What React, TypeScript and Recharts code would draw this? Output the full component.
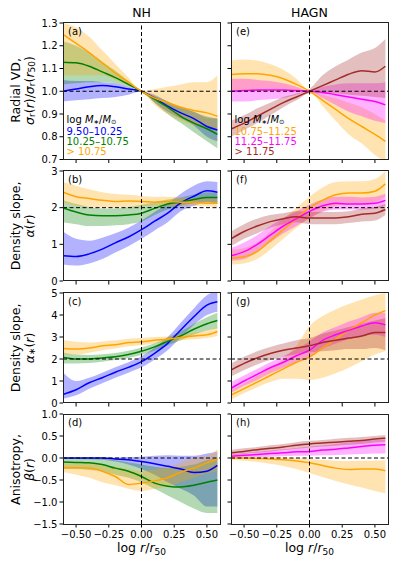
import React from 'react'
import { ComposedChart, Area, Line, XAxis, YAxis, ReferenceLine } from 'recharts'

// x grid: log r/r50
const X = [-0.6, -0.5, -0.4, -0.3, -0.2, -0.1, 0, 0.1, 0.2, 0.3, 0.4, 0.5, 0.58]
const X_TICKS = [-0.5, -0.25, 0, 0.25, 0.5]

// (a) NH radial VD
const aBlue = [1.0, 1.01, 1.02, 1.025, 1.02, 1.01, 1.0, 0.97, 0.935, 0.905, 0.88, 0.845, 0.83]
const aBlueLo = [0.955, 0.96, 0.965, 0.97, 0.975, 0.985, 1.0, 0.95, 0.91, 0.88, 0.85, 0.8, 0.78]
const aBlueHi = [1.05, 1.045, 1.045, 1.04, 1.035, 1.02, 1.0, 0.985, 0.955, 0.93, 0.91, 0.885, 0.88]
const aGreen = [1.128, 1.125, 1.11, 1.085, 1.06, 1.03, 1.0, 0.965, 0.93, 0.89, 0.86, 0.835, 0.81]
const aGreenLo = [1.03, 1.035, 1.04, 1.04, 1.035, 1.02, 1.0, 0.95, 0.9, 0.86, 0.82, 0.78, 0.75]
const aGreenHi = [1.22, 1.2, 1.17, 1.13, 1.09, 1.045, 1.0, 0.98, 0.955, 0.93, 0.91, 0.89, 0.88]
const aOrange = [1.25, 1.21, 1.17, 1.125, 1.08, 1.04, 1.0, 0.97, 0.95, 0.93, 0.915, 0.905, 0.89]
const aOrangeLo = [1.07, 1.07, 1.07, 1.07, 1.05, 1.025, 1.0, 0.94, 0.9, 0.87, 0.85, 0.84, 0.83]
const aOrangeHi = [1.3, 1.28, 1.24, 1.18, 1.12, 1.06, 1.0, 1.01, 1.02, 1.03, 1.04, 1.04, 1.07]

// (e) HAGN radial VD
const eOrange = [1.074, 1.077, 1.077, 1.07, 1.055, 1.03, 1.0, 0.96, 0.92, 0.88, 0.845, 0.81, 0.78]
const eOrangeLo = [1.0, 1.0, 1.0, 1.0, 1.0, 0.995, 1.0, 0.935, 0.87, 0.81, 0.77, 0.72, 0.69]
const eOrangeHi = [1.135, 1.14, 1.135, 1.12, 1.095, 1.055, 1.0, 0.985, 0.97, 0.95, 0.93, 0.9, 0.87]
const eMagenta = [1.0, 1.003, 1.005, 1.005, 1.005, 1.003, 1.0, 0.995, 0.985, 0.975, 0.965, 0.955, 0.94]
const eMagentaLo = [0.955, 0.955, 0.96, 0.965, 0.97, 0.985, 1.0, 0.97, 0.94, 0.91, 0.89, 0.87, 0.86]
const eMagentaHi = [1.055, 1.055, 1.05, 1.045, 1.035, 1.02, 1.0, 1.02, 1.03, 1.035, 1.035, 1.035, 1.04]
const eBrown = [0.834, 0.86, 0.89, 0.92, 0.95, 0.975, 1.0, 1.025, 1.05, 1.075, 1.09, 1.085, 1.11]
const eBrownLo = [0.8, 0.83, 0.86, 0.895, 0.93, 0.96, 0.99, 0.99, 0.99, 0.985, 0.98, 0.975, 0.97]
const eBrownHi = [0.87, 0.895, 0.925, 0.95, 0.975, 0.99, 1.01, 1.07, 1.11, 1.14, 1.17, 1.19, 1.23]

// (b) NH density slope
const bBlue = [0.69, 0.67, 0.74, 0.87, 1.04, 1.2, 1.4, 1.63, 1.85, 2.13, 2.31, 2.46, 2.42]
const bBlueLo = [0.45, 0.42, 0.48, 0.6, 0.78, 0.95, 1.15, 1.38, 1.6, 1.9, 2.05, 2.15, 2.1]
const bBlueHi = [1.35, 1.15, 1.1, 1.18, 1.3, 1.45, 1.65, 1.88, 2.12, 2.38, 2.6, 2.72, 2.7]
const bGreen = [1.99, 1.88, 1.8, 1.78, 1.78, 1.8, 1.85, 1.98, 2.1, 2.15, 2.22, 2.28, 2.28]
const bGreenLo = [1.6, 1.55, 1.5, 1.5, 1.52, 1.55, 1.62, 1.8, 1.95, 2.05, 2.12, 2.15, 2.15]
const bGreenHi = [2.2, 2.1, 2.02, 1.98, 1.98, 2.02, 2.08, 2.15, 2.22, 2.28, 2.36, 2.42, 2.42]
const bOrange = [2.42, 2.3, 2.25, 2.2, 2.17, 2.18, 2.17, 2.15, 2.17, 2.15, 2.15, 2.12, 2.12]
const bOrangeLo = [2.15, 2.05, 2.02, 2.0, 2.0, 2.02, 2.03, 2.05, 2.05, 2.05, 2.05, 2.03, 2.02]
const bOrangeHi = [2.7, 2.6, 2.5, 2.42, 2.37, 2.35, 2.32, 2.3, 2.3, 2.28, 2.27, 2.25, 2.25]

// (f) HAGN density slope
const fOrange = [0.62, 0.66, 0.8, 1.1, 1.4, 1.7, 2.0, 2.2, 2.35, 2.4, 2.4, 2.45, 2.65]
const fOrangeLo = [0.45, 0.48, 0.6, 0.85, 1.15, 1.45, 1.7, 1.9, 2.05, 2.1, 2.1, 2.15, 2.3]
const fOrangeHi = [0.85, 0.9, 1.05, 1.35, 1.7, 2.0, 2.3, 2.55, 2.7, 2.72, 2.72, 2.78, 3.0]
const fMagenta = [0.69, 0.8, 1.0, 1.25, 1.5, 1.7, 1.9, 2.05, 2.12, 2.1, 2.1, 2.12, 2.2]
const fMagentaLo = [0.55, 0.6, 0.8, 1.05, 1.3, 1.5, 1.72, 1.88, 1.95, 1.95, 1.95, 1.97, 2.05]
const fMagentaHi = [0.9, 1.05, 1.25, 1.5, 1.72, 1.9, 2.08, 2.22, 2.3, 2.3, 2.28, 2.3, 2.38]
const fBrown = [1.15, 1.35, 1.5, 1.62, 1.7, 1.75, 1.72, 1.72, 1.72, 1.75, 1.82, 1.85, 1.95]
const fBrownLo = [0.95, 1.15, 1.3, 1.45, 1.55, 1.6, 1.55, 1.55, 1.55, 1.58, 1.62, 1.65, 1.8]
const fBrownHi = [1.35, 1.55, 1.7, 1.8, 1.85, 1.9, 1.88, 1.88, 1.88, 1.9, 1.98, 2.02, 2.1]

// (c) NH stellar density slope
const cBlue = [0.39, 0.6, 0.92, 1.15, 1.4, 1.62, 1.88, 2.26, 2.71, 3.32, 3.92, 4.45, 4.6]
const cBlueLo = [0.2, 0.35, 0.65, 0.9, 1.15, 1.38, 1.62, 1.98, 2.4, 2.98, 3.55, 4.0, 4.15]
const cBlueHi = [1.4, 1.0, 1.15, 1.38, 1.62, 1.85, 2.12, 2.52, 3.0, 3.65, 4.3, 4.9, 5.1]
const cGreen = [2.08, 2.0, 2.0, 2.05, 2.1, 2.2, 2.35, 2.55, 2.8, 3.05, 3.35, 3.6, 3.75]
const cGreenLo = [1.8, 1.8, 1.82, 1.88, 1.95, 2.05, 2.18, 2.38, 2.62, 2.85, 3.1, 3.3, 3.4]
const cGreenHi = [2.3, 2.2, 2.18, 2.22, 2.27, 2.37, 2.52, 2.72, 2.98, 3.25, 3.6, 3.9, 4.1]
const cOrange = [2.48, 2.45, 2.5, 2.6, 2.65, 2.75, 2.78, 2.85, 2.9, 2.98, 3.05, 3.1, 3.25]
const cOrangeLo = [2.2, 2.2, 2.28, 2.4, 2.48, 2.58, 2.62, 2.7, 2.78, 2.85, 2.9, 2.95, 3.05]
const cOrangeHi = [2.85, 2.78, 2.75, 2.8, 2.85, 2.92, 2.95, 3.0, 3.02, 3.1, 3.2, 3.3, 3.45]

// (g) HAGN stellar density slope
const gOrange = [0.36, 0.65, 0.95, 1.25, 1.55, 1.85, 2.1, 2.5, 2.9, 3.3, 3.65, 4.0, 4.2]
const gOrangeLo = [0.15, 0.45, 0.72, 0.95, 1.1, 1.1, 1.05, 1.15, 1.35, 1.6, 1.9, 2.2, 2.35]
const gOrangeHi = [0.6, 0.9, 1.25, 1.6, 2.0, 2.6, 3.5, 3.95, 4.25, 4.5, 4.7, 4.9, 5.0]
const gMagenta = [0.67, 1.0, 1.3, 1.6, 1.85, 2.15, 2.4, 2.85, 3.1, 3.3, 3.5, 3.65, 3.55]
const gMagentaLo = [0.45, 0.78, 1.05, 1.35, 1.6, 1.85, 2.05, 2.45, 2.7, 2.9, 3.05, 3.1, 3.0]
const gMagentaHi = [0.95, 1.25, 1.55, 1.85, 2.12, 2.45, 2.8, 3.2, 3.45, 3.7, 3.9, 4.1, 4.1]
const gBrown = [1.5, 1.8, 2.05, 2.25, 2.4, 2.5, 2.6, 2.75, 2.85, 2.95, 3.05, 3.2, 3.2]
const gBrownLo = [1.2, 1.5, 1.75, 1.95, 2.1, 2.2, 2.3, 2.35, 2.4, 2.45, 2.45, 2.5, 2.4]
const gBrownHi = [1.8, 2.1, 2.35, 2.55, 2.7, 2.85, 2.95, 3.15, 3.3, 3.45, 3.6, 3.75, 3.85]

// (d) NH anisotropy
const dBlue = [0, 0, 0, 0, -0.02, -0.04, -0.08, -0.13, -0.19, -0.25, -0.33, -0.3, -0.17]
const dBlueLo = [-0.02, -0.02, -0.03, -0.04, -0.08, -0.15, -0.25, -0.38, -0.55, -0.7, -0.85, -1.1, -1.1]
const dBlueHi = [0.01, 0.01, 0.01, 0.01, 0.01, 0.02, 0.03, 0.05, 0.06, 0.05, 0.05, 0.1, 0.15]
const dGreen = [-0.09, -0.1, -0.11, -0.15, -0.23, -0.3, -0.42, -0.57, -0.64, -0.66, -0.62, -0.55, -0.5]
const dGreenLo = [-0.25, -0.25, -0.27, -0.3, -0.38, -0.45, -0.55, -0.7, -0.85, -1.0, -1.15, -1.25, -1.25]
const dGreenHi = [0.0, 0.0, 0.0, -0.02, -0.05, -0.1, -0.15, -0.2, -0.22, -0.2, -0.15, -0.05, 0.0]
const dOrange = [-0.22, -0.22, -0.23, -0.3, -0.42, -0.6, -0.57, -0.52, -0.45, -0.32, -0.23, -0.11, -0.03]
const dOrangeLo = [-0.32, -0.38, -0.45, -0.55, -0.62, -0.7, -0.75, -0.7, -0.65, -0.55, -0.45, -0.35, -0.3]
const dOrangeHi = [-0.12, -0.12, -0.12, -0.15, -0.2, -0.25, -0.3, -0.25, -0.2, -0.1, 0.0, 0.05, 0.2]

// (h) HAGN anisotropy
const hOrange = [0.0, 0.0, -0.01, -0.02, -0.04, -0.07, -0.11, -0.17, -0.23, -0.26, -0.25, -0.25, -0.29]
const hOrangeLo = [-0.04, -0.06, -0.09, -0.13, -0.18, -0.25, -0.34, -0.43, -0.52, -0.6, -0.67, -0.75, -0.8]
const hOrangeHi = [0.02, 0.02, 0.02, 0.02, 0.01, 0.0, -0.02, -0.04, -0.06, -0.07, -0.06, -0.06, -0.05]
const hMagenta = [0.04, 0.06, 0.08, 0.1, 0.12, 0.14, 0.15, 0.18, 0.2, 0.23, 0.26, 0.29, 0.3]
const hMagentaLo = [0.0, 0.01, 0.02, 0.03, 0.04, 0.05, 0.05, 0.06, 0.07, 0.08, 0.09, 0.1, 0.1]
const hMagentaHi = [0.08, 0.11, 0.14, 0.17, 0.2, 0.23, 0.26, 0.29, 0.32, 0.35, 0.38, 0.41, 0.42]
const hBrown = [0.12, 0.15, 0.19, 0.22, 0.25, 0.29, 0.32, 0.34, 0.36, 0.38, 0.4, 0.43, 0.45]
const hBrownLo = [0.06, 0.09, 0.12, 0.15, 0.18, 0.21, 0.24, 0.26, 0.28, 0.3, 0.32, 0.35, 0.37]
const hBrownHi = [0.18, 0.22, 0.25, 0.29, 0.32, 0.36, 0.39, 0.41, 0.44, 0.46, 0.48, 0.5, 0.52]

const BLUE = '#0000ff'
const GREEN = '#008000'
const ORANGE = '#ffa500'
const MAGENTA = '#ff00ff'
const BROWN = '#a52a2a'
const FONT = '"DejaVu Sans", sans-serif'

interface Series { color: string; mid: number[]; lo: number[]; hi: number[] }

const minus = (s: string) => s.replace('-', '\u2212')

const PANEL_W = 157
const PAD = 7
const COL_X = [63, 231]
const ROWS = [
  { top: 22.5, h: 136.5 },
  { top: 170.7, h: 110 },
  { top: 292.7, h: 110 },
  { top: 414.3, h: 110 },
]

interface PanelProps {
  col: number
  row: number
  series: Series[]
  yDomain: [number, number]
  yTicks: number[]
  yFmt: (v: number) => string
  refY: number
  letter: string
}

function Panel({ col, row, series, yDomain, yTicks, yFmt, refY, letter }: PanelProps) {
  const showY = col === 0
  const showX = row === 3
  const yW = showY ? 32 : 5
  const xH = showX ? 20 : 5
  const left = COL_X[col]
  const { top, h } = ROWS[row]

  const data = X.map((x, i) => {
    const r: Record<string, unknown> = { x }
    series.forEach((s, k) => {
      r['m' + k] = s.mid[i]
      r['b' + k] = [s.lo[i], s.hi[i]]
    })
    return r
  })

  return (
    <>
      <div style={{ position: 'absolute', left: left - yW, top: top - PAD }}>
        <ComposedChart width={PANEL_W + yW + 2} height={h + xH + 2 * PAD} data={data}
          margin={{ top: PAD, right: 2, bottom: PAD, left: 0 }}>
          <XAxis type="number" dataKey="x" domain={[-0.6, 0.6]} ticks={X_TICKS} interval={0}
            allowDataOverflow axisLine={false} height={xH} tickSize={3.5} tickMargin={3}
            tickLine={{ stroke: '#000' }}
            tick={{ fontSize: 10, fill: '#000', fontFamily: FONT }}
            tickFormatter={(v: number) => (showX ? minus(v.toFixed(2)) : '')} />
          <YAxis type="number" domain={yDomain} ticks={yTicks} interval={0}
            allowDataOverflow axisLine={false} width={yW} tickSize={3.5} tickMargin={2}
            tickLine={{ stroke: '#000' }}
            tick={{ fontSize: 10, fill: '#000', fontFamily: FONT }}
            tickFormatter={(v: number) => (showY ? yFmt(v) : '')} />
          {series.map((s, k) => (
            <Area key={'b' + k} dataKey={'b' + k} type="monotone" stroke="none"
              fill={s.color} fillOpacity={0.3} isAnimationActive={false} />
          ))}
          {series.map((s, k) => (
            <Line key={'m' + k} dataKey={'m' + k} type="monotone" stroke={s.color}
              strokeWidth={1.5} dot={false} isAnimationActive={false} />
          ))}
          <ReferenceLine x={0} stroke="#000" strokeWidth={1} strokeDasharray="4 2.5" />
          <ReferenceLine y={refY} stroke="#000" strokeWidth={1} strokeDasharray="4 2.5" />
        </ComposedChart>
      </div>
      <div style={{
        position: 'absolute', left: left - 0.5, top: top - 0.5, width: PANEL_W + 1, height: h + 1,
        border: '1px solid #222', boxSizing: 'border-box', pointerEvents: 'none',
      }} />
      <div style={{
        position: 'absolute', left: left + 5, top: top + 3, fontFamily: FONT, fontSize: 10, color: '#000',
      }}>{letter}</div>
    </>
  )
}

const fmt1 = (v: number) => minus(v.toFixed(1))
const fmt0 = (v: number) => String(v)

const Sub = ({ t, size = 9, shift = '-28%' }: { t: string; size?: number; shift?: string }) => (
  <tspan baselineShift={shift} fontSize={size}>{t}</tspan>
)

export default function App() {
  return (
    <div style={{ position: 'absolute', left: 0, top: 0, width: 395, height: 564, background: '#fff', fontFamily: FONT }}>
      <Panel col={0} row={0} letter="(a)" yDomain={[0.7, 1.3]} yTicks={[0.7, 0.8, 0.9, 1.0, 1.1, 1.2, 1.3]} yFmt={fmt1} refY={1}
        series={[
          { color: BLUE, mid: aBlue, lo: aBlueLo, hi: aBlueHi },
          { color: GREEN, mid: aGreen, lo: aGreenLo, hi: aGreenHi },
          { color: ORANGE, mid: aOrange, lo: aOrangeLo, hi: aOrangeHi },
        ]} />
      <Panel col={1} row={0} letter="(e)" yDomain={[0.7, 1.3]} yTicks={[0.7, 0.8, 0.9, 1.0, 1.1, 1.2, 1.3]} yFmt={fmt1} refY={1}
        series={[
          { color: ORANGE, mid: eOrange, lo: eOrangeLo, hi: eOrangeHi },
          { color: MAGENTA, mid: eMagenta, lo: eMagentaLo, hi: eMagentaHi },
          { color: BROWN, mid: eBrown, lo: eBrownLo, hi: eBrownHi },
        ]} />
      <Panel col={0} row={1} letter="(b)" yDomain={[0, 3]} yTicks={[0, 1, 2, 3]} yFmt={fmt0} refY={2}
        series={[
          { color: BLUE, mid: bBlue, lo: bBlueLo, hi: bBlueHi },
          { color: GREEN, mid: bGreen, lo: bGreenLo, hi: bGreenHi },
          { color: ORANGE, mid: bOrange, lo: bOrangeLo, hi: bOrangeHi },
        ]} />
      <Panel col={1} row={1} letter="(f)" yDomain={[0, 3]} yTicks={[0, 1, 2, 3]} yFmt={fmt0} refY={2}
        series={[
          { color: ORANGE, mid: fOrange, lo: fOrangeLo, hi: fOrangeHi },
          { color: MAGENTA, mid: fMagenta, lo: fMagentaLo, hi: fMagentaHi },
          { color: BROWN, mid: fBrown, lo: fBrownLo, hi: fBrownHi },
        ]} />
      <Panel col={0} row={2} letter="(c)" yDomain={[0, 5]} yTicks={[0, 1, 2, 3, 4, 5]} yFmt={fmt0} refY={2}
        series={[
          { color: BLUE, mid: cBlue, lo: cBlueLo, hi: cBlueHi },
          { color: GREEN, mid: cGreen, lo: cGreenLo, hi: cGreenHi },
          { color: ORANGE, mid: cOrange, lo: cOrangeLo, hi: cOrangeHi },
        ]} />
      <Panel col={1} row={2} letter="(g)" yDomain={[0, 5]} yTicks={[0, 1, 2, 3, 4, 5]} yFmt={fmt0} refY={2}
        series={[
          { color: ORANGE, mid: gOrange, lo: gOrangeLo, hi: gOrangeHi },
          { color: MAGENTA, mid: gMagenta, lo: gMagentaLo, hi: gMagentaHi },
          { color: BROWN, mid: gBrown, lo: gBrownLo, hi: gBrownHi },
        ]} />
      <Panel col={0} row={3} letter="(d)" yDomain={[-1.5, 1]} yTicks={[-1.5, -1, -0.5, 0, 0.5, 1]} yFmt={fmt1} refY={0}
        series={[
          { color: BLUE, mid: dBlue, lo: dBlueLo, hi: dBlueHi },
          { color: GREEN, mid: dGreen, lo: dGreenLo, hi: dGreenHi },
          { color: ORANGE, mid: dOrange, lo: dOrangeLo, hi: dOrangeHi },
        ]} />
      <Panel col={1} row={3} letter="(h)" yDomain={[-1.5, 1]} yTicks={[-1.5, -1, -0.5, 0, 0.5, 1]} yFmt={fmt1} refY={0}
        series={[
          { color: ORANGE, mid: hOrange, lo: hOrangeLo, hi: hOrangeHi },
          { color: MAGENTA, mid: hMagenta, lo: hMagentaLo, hi: hMagentaHi },
          { color: BROWN, mid: hBrown, lo: hBrownLo, hi: hBrownHi },
        ]} />

      <svg width={395} height={564} style={{ position: 'absolute', left: 0, top: 0, pointerEvents: 'none' }}
        fontFamily={FONT}>
        {/* column titles */}
        <text x={141.5} y={16.5} fontSize={12.5} textAnchor="middle">NH</text>
        <text x={309.5} y={16.5} fontSize={12.5} textAnchor="middle">HAGN</text>

        {/* y labels */}
        <g fontSize={12.5} textAnchor="middle" dominantBaseline="central">
          <text transform="translate(15,90.5) rotate(-90)">Radial VD,</text>
          <text transform="translate(28.5,90.5) rotate(-90)">
            <tspan fontStyle="italic">σ</tspan><Sub t="r" />
            <tspan>(</tspan><tspan fontStyle="italic">r</tspan><tspan>)/</tspan>
            <tspan fontStyle="italic">σ</tspan><Sub t="r" />
            <tspan>(</tspan><tspan fontStyle="italic">r</tspan><Sub t="50" /><tspan>)</tspan>
          </text>
          <text transform="translate(15,226) rotate(-90)">Density slope,</text>
          <text transform="translate(28.5,226) rotate(-90)">
            <tspan fontStyle="italic">α</tspan><tspan>(</tspan><tspan fontStyle="italic">r</tspan><tspan>)</tspan>
          </text>
          <text transform="translate(15,348) rotate(-90)">Density slope,</text>
          <text transform="translate(28.5,348) rotate(-90)">
            <tspan fontStyle="italic">α</tspan><Sub t="∗" /><tspan>(</tspan><tspan fontStyle="italic">r</tspan><tspan>)</tspan>
          </text>
          <text transform="translate(15,469.5) rotate(-90)">Anisotropy,</text>
          <text transform="translate(28.5,469.5) rotate(-90)">
            <tspan fontStyle="italic">β</tspan><tspan>(</tspan><tspan fontStyle="italic">r</tspan><tspan>)</tspan>
          </text>
        </g>

        {/* x labels */}
        {[141.5, 309.5].map(cx => (
          <text key={cx} x={cx} y={552} fontSize={12.5} textAnchor="middle">
            <tspan>log </tspan><tspan fontStyle="italic">r</tspan><tspan>/</tspan>
            <tspan fontStyle="italic">r</tspan><Sub t="50" />
          </text>
        ))}

        {/* legends */}
        <g fontSize={10}>
          <text x={66.5} y={123}>
            log <tspan fontStyle="italic">M</tspan><Sub t="∗" size={6.5} shift="-15%" /><tspan>/</tspan><tspan fontStyle="italic">M</tspan><Sub t="⊙" size={6.5} shift="-15%" />
          </text>
          <text x={66.5} y={135} fill={BLUE}>9.50–10.25</text>
          <text x={66.5} y={145} fill={GREEN}>10.25–10.75</text>
          <text x={66.5} y={155} fill={ORANGE}>&gt; 10.75</text>

          <text x={234.5} y={123}>
            log <tspan fontStyle="italic">M</tspan><Sub t="∗" size={6.5} shift="-15%" /><tspan>/</tspan><tspan fontStyle="italic">M</tspan><Sub t="⊙" size={6.5} shift="-15%" />
          </text>
          <text x={234.5} y={135} fill={ORANGE}>10.75–11.25</text>
          <text x={234.5} y={145} fill={MAGENTA}>11.25–11.75</text>
          <text x={234.5} y={155} fill={BROWN}>&gt; 11.75</text>
        </g>
      </svg>
    </div>
  )
}
